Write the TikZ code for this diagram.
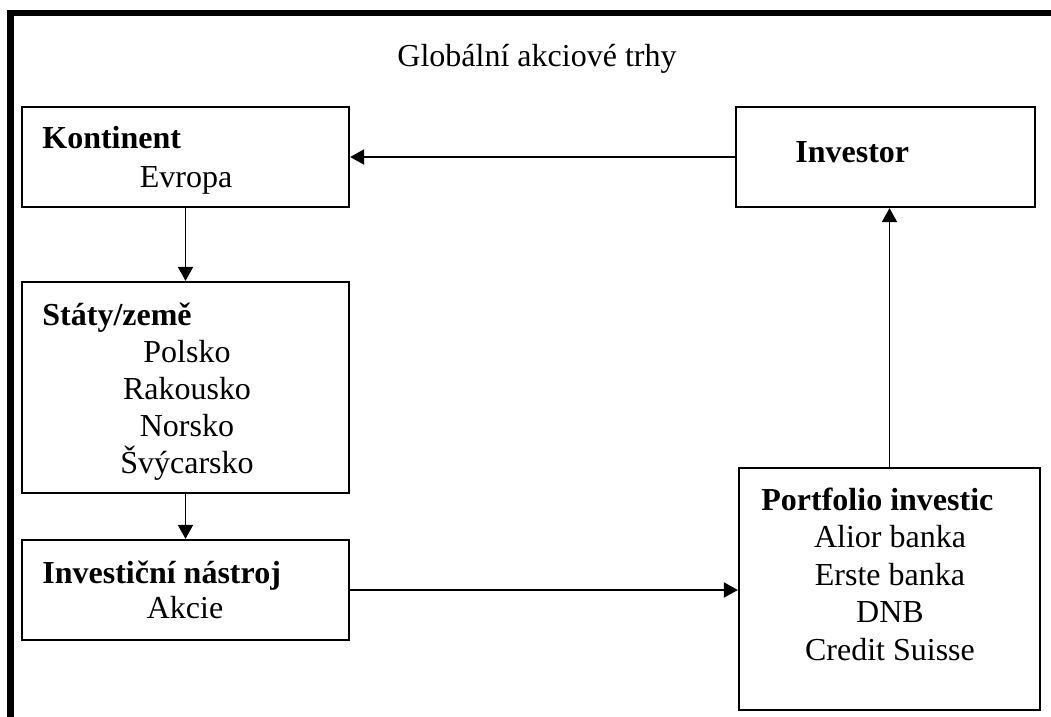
\documentclass[tikz,border=0pt]{standalone}
\usepackage{fontspec}
\setmainfont{Liberation Serif}
\usetikzlibrary{arrows.meta}

\begin{document}
\begin{tikzpicture}[x=0.5pt, y=-0.5pt,
    box/.style={draw, line width=1.1pt, rectangle, inner sep=0pt},
    head/.style={anchor=base west, inner sep=0pt, font=\fontsize{16}{18.5}\selectfont\bfseries},
    item/.style={anchor=base, inner sep=0pt, font=\fontsize{16}{18.5}\selectfont},
    arr/.style={-{Triangle[length=7pt, width=7.5pt]}, line width=0.9pt}]
    \useasboundingbox (0,0) rectangle (1051,717);
    \draw[line width=3.4pt] (10.5,717) -- (10.5,13) -- (1051,13);
    \node[item] (title) at (537,67) {Globální akciové trhy};
    % boxes
    \node[box, minimum width=163.5pt, minimum height=50pt] (kont) at (185.5,157) {};
    \node[box, minimum width=163.5pt, minimum height=105.5pt] (staty) at (185.5,387.5) {};
    \node[box, minimum width=163.5pt, minimum height=50pt] (nastroj) at (185.5,590) {};
    \node[box, minimum width=149.5pt, minimum height=50pt] (investor) at (885.5,157) {};
    \node[box, minimum width=150.5pt, minimum height=121pt] (portf) at (889.5,589) {};
    % texts
    \node[head] (kontH) at (42,149) {Kontinent};
    \node[item] (evropa) at (186,188) {Evropa};
    \node[head] (statyH) at (42,325) {Státy/země};
    \foreach \s [count=\ni] in {Polsko, Rakousko, Norsko, Švýcarsko}
        \node[item] (st\ni) at (187,325+37*\ni) {\s};
    \node[head] (nastrojH) at (42,583) {Investiční nástroj};
    \node[item] (akcie) at (185,618) {Akcie};
    \node[head] (investorH) at (795,163) {Investor};
    \node[head] (portfH) at (761,510) {Portfolio investic};
    \foreach \s [count=\ni] in {Alior banka, Erste banka, DNB, Credit Suisse}
        \node[item] (pf\ni) at (890,510+37.5*\ni) {\s};
    % arrows
    \draw[arr] (investor.west) -- (kont.east);
    \draw[arr] (kont.south) -- (staty.north);
    \draw[arr] (staty.south) -- (nastroj.north);
    \draw[arr] (nastroj.east) -- (portf.west |- nastroj.east);
    \draw[arr] (portf.north) -- (portf.north |- investor.south);
\end{tikzpicture}
\end{document}
